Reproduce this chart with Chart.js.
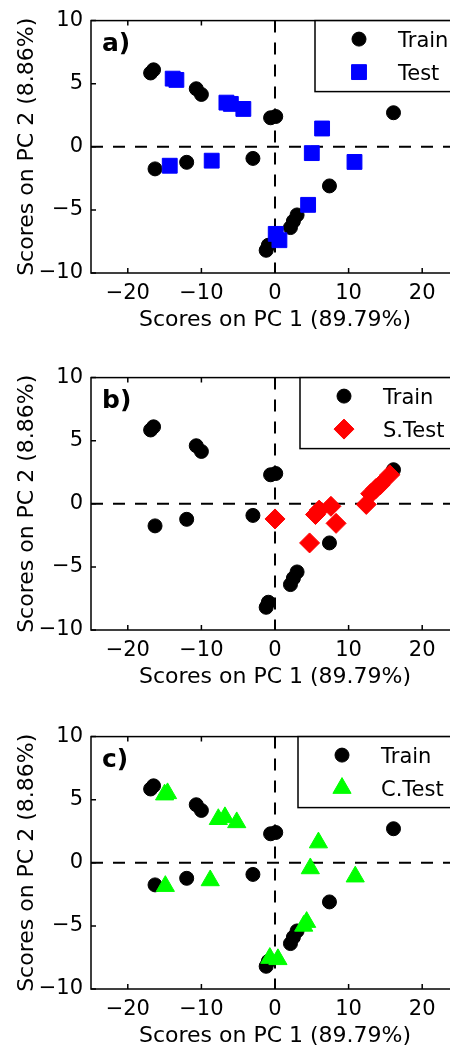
<!DOCTYPE html>
<html>
<head>
<meta charset="utf-8">
<script src="https://cdn.jsdelivr.net/npm/chart.js"></script>
<style>
  html, body { margin: 0; padding: 0; background: #fff; }
  body { width: 450px; height: 1049px; overflow: hidden; position: relative; }
  .panel { position: absolute; left: 0; width: 480px; height: 350px; }
</style>
</head>
<body>
<div class="panel" style="top:0px"><canvas id="pa" width="480" height="350"></canvas></div>
<div class="panel" style="top:357px"><canvas id="pb" width="480" height="350"></canvas></div>
<div class="panel" style="top:716px"><canvas id="pc" width="480" height="350"></canvas></div>
<script>
// axes
const xTicks = [-20, -10, 0, 10, 20];
const yTicks = [-10, -5, 0, 5, 10];
const xRange = [-25, 25];
const yRange = [-10, 10];
const xTitle = 'Scores on PC 1 (89.79%)';
const yTitle = 'Scores on PC 2 (8.86%)';
const panelLabels = ['a)', 'b)', 'c)'];
const trainName = 'Train';
const testNames = ['Test', 'S.Test', 'C.Test'];

// training scores (same in all panels)
const trainX = [-16.9, -16.5, -10.7, -10.0, -0.6, 0.1, 16.1, -16.3, -12.0, -3.0, 7.4, 3.0, 2.5, 2.1, -0.9, -1.2];
const trainY = [5.85, 6.1, 4.6, 4.15, 2.3, 2.4, 2.7, -1.75, -1.23, -0.92, -3.1, -5.4, -5.9, -6.4, -7.8, -8.2];

// a) test set
const testAX = [-13.9, -13.4, -6.6, -6.0, -4.3, 6.4, 5.0, 10.8, -14.3, -8.6, 4.5, 0.1, 0.6];
const testAY = [5.4, 5.3, 3.5, 3.4, 3.0, 1.45, -0.5, -1.2, -1.5, -1.1, -4.6, -6.9, -7.4];

// b) S.Test
const testBX = [0.0, 4.7, 5.5, 6.0, 7.6, 8.3, 12.4, 13.0, 13.7, 14.3, 15.6];
const testBY = [-1.2, -3.1, -0.85, -0.5, -0.2, -1.55, -0.05, 0.8, 1.2, 1.5, 2.3];

// c) C.Test
const testCX = [-15.0, -14.6, -7.7, -6.8, -5.2, 5.9, 4.8, 10.9, -14.9, -8.8, 3.9, 4.3, -0.7, 0.4];
const testCY = [5.4, 5.5, 3.45, 3.6, 3.2, 1.6, -0.45, -1.1, -1.85, -1.4, -5.0, -4.7, -7.55, -7.65];

const FONT = "'DejaVu Sans', 'Liberation Sans', sans-serif";
Chart.defaults.font.family = FONT;
Chart.defaults.font.size = 21;
Chart.defaults.color = '#000';

const toPoints = (xs, ys) => xs.map((v, i) => ({ x: v, y: ys[i] }));
const minus = v => String(v).replace('-', '\u2212');

function drawMarker(ctx, ds, x, y) {
  const opts = { pointStyle: ds.pointStyle, radius: ds.pointRadius, rotation: 0, borderWidth: ds.borderWidth };
  ctx.fillStyle = ds.backgroundColor;
  ctx.strokeStyle = ds.borderColor;
  ctx.lineWidth = ds.borderWidth;
  Chart.helpers.drawPoint(ctx, opts, x, y);
}

const pcaDecor = {
  id: 'pcaDecor',
  beforeDatasetsDraw(chart) {
    const { ctx, chartArea: a, scales: { x, y } } = chart;
    const x0 = x.getPixelForValue(0), y0 = y.getPixelForValue(0);
    ctx.save();
    ctx.strokeStyle = '#000';
    ctx.lineWidth = 2;
    ctx.setLineDash([12, 10]);
    ctx.beginPath();
    ctx.moveTo(a.left, y0); ctx.lineTo(a.right, y0);
    ctx.moveTo(x0, a.top); ctx.lineTo(x0, a.bottom);
    ctx.stroke();
    ctx.restore();
  },
  afterDraw(chart, args, opts) {
    const { ctx, chartArea: a, scales: { x, y } } = chart;
    ctx.save();
    // inward ticks on all sides
    ctx.strokeStyle = '#000';
    ctx.lineWidth = 1.5;
    ctx.beginPath();
    xTicks.forEach(v => {
      const px = x.getPixelForValue(v);
      ctx.moveTo(px, a.bottom); ctx.lineTo(px, a.bottom - 5);
      ctx.moveTo(px, a.top); ctx.lineTo(px, a.top + 5);
    });
    yTicks.forEach(v => {
      const py = y.getPixelForValue(v);
      ctx.moveTo(a.left, py); ctx.lineTo(a.left + 5, py);
      ctx.moveTo(a.right, py); ctx.lineTo(a.right - 5, py);
    });
    ctx.stroke();
    ctx.strokeRect(a.left, a.top, a.right - a.left, a.bottom - a.top);

    // panel letter
    ctx.fillStyle = '#000';
    ctx.font = "bold 25px " + FONT;
    ctx.textBaseline = 'alphabetic';
    ctx.textAlign = 'left';
    ctx.fillText(opts.label, a.left + 11, a.top + 30.5);

    // legend box
    const lx = opts.legendLeft, ly = a.top, lw = a.right - 3 - lx, lh = 71;
    ctx.fillStyle = '#fff';
    ctx.fillRect(lx, ly, lw, lh);
    ctx.strokeStyle = '#000';
    ctx.lineWidth = 1.5;
    ctx.strokeRect(lx, ly, lw, lh);
    const rows = [ly + 18.5, ly + 51.5];
    ctx.font = "21px " + FONT;
    chart.data.datasets.slice().sort((p, q) => q.order - p.order).forEach((ds, i) => {
      drawMarker(ctx, ds, lx + 44, rows[i]);
      ctx.fillStyle = '#000';
      ctx.fillText(ds.label, lx + 83, rows[i] + 7.6);
    });
    ctx.restore();
  }
};

function makePanel(id, idx, testX, testY, style, color, radius, legendLeft) {
  return new Chart(document.getElementById(id), {
    type: 'scatter',
    data: {
      datasets: [
        {
          label: trainName,
          data: toPoints(trainX, trainY),
          pointStyle: 'circle',
          pointRadius: 7,
          backgroundColor: '#000',
          borderColor: '#000',
          borderWidth: 1,
          order: 1
        },
        {
          label: testNames[idx],
          data: toPoints(testX, testY),
          pointStyle: style,
          pointRadius: radius,
          backgroundColor: color,
          borderColor: color,
          borderWidth: 1,
          order: 0
        }
      ]
    },
    options: {
      responsive: false,
      animation: false,
      devicePixelRatio: 1,
      layout: { padding: { top: 18, left: 0, right: 21, bottom: 0 } },
      plugins: {
        legend: { display: false },
        tooltip: { enabled: false },
        pcaDecor: { label: panelLabels[idx], legendLeft: legendLeft }
      },
      scales: {
        x: {
          type: 'linear',
          min: xRange[0],
          max: xRange[1],
          afterBuildTicks: s => { s.ticks = xTicks.map(v => ({ value: v })); },
          afterFit: s => { s.height = 77; },
          grid: { display: false, drawTicks: false },
          border: { display: false },
          ticks: { padding: 8, font: { size: 21 }, callback: minus },
          title: { display: true, text: xTitle, font: { size: 22 }, padding: { top: 0, bottom: 17 } }
        },
        y: {
          type: 'linear',
          min: yRange[0],
          max: yRange[1],
          afterBuildTicks: s => { s.ticks = yTicks.map(v => ({ value: v })); },
          afterFit: s => { s.width = 91; },
          grid: { display: false, drawTicks: false },
          border: { display: false },
          ticks: { padding: 8, font: { size: 21 }, callback: minus },
          title: { display: true, text: yTitle, font: { size: 22 }, padding: { top: 14, bottom: 0 } }
        }
      }
    },
    plugins: [pcaDecor]
  });
}

makePanel('pa', 0, testAX, testAY, 'rect', '#0000ff', 10.5, 315);
makePanel('pb', 1, testBX, testBY, 'rectRot', '#ff0000', 10, 300);
makePanel('pc', 2, testCX, testCY, 'triangle', '#00ff00', 10.5, 298);
</script>
</body>
</html>
